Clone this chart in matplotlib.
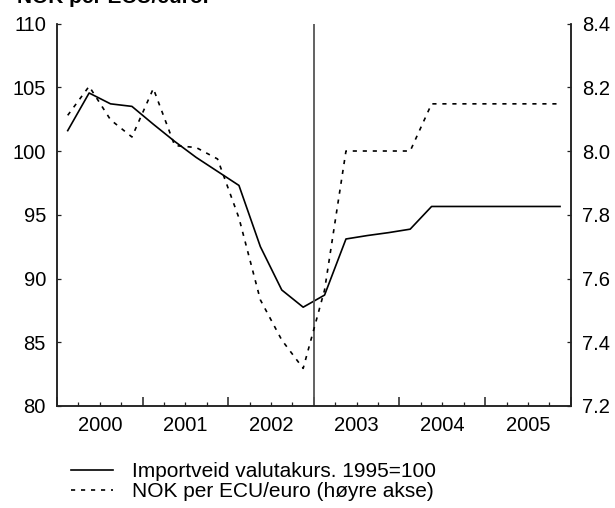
import matplotlib
matplotlib.use("Agg")
import matplotlib.pyplot as plt
import numpy as np

plt.rcParams['font.family'] = ['Liberation Sans', 'DejaVu Sans']

years = ['2000', '2001', '2002', '2003', '2004', '2005']
quarters = ['2000Q1', '2000Q2', '2000Q3', '2000Q4',
            '2001Q1', '2001Q2', '2001Q3', '2001Q4',
            '2002Q1', '2002Q2', '2002Q3', '2002Q4',
            '2003Q1', '2003Q2', '2003Q3', '2003Q4',
            '2004Q1', '2004Q2', '2004Q3', '2004Q4',
            '2005Q1', '2005Q2', '2005Q3', '2005Q4']
importveid = [101.6, 104.55, 103.7, 103.5,
              102.1, 100.75, 99.5, 98.4,
              97.3, 92.5, 89.1, 87.75,
              88.7, 93.1, 93.37, 93.6,
              93.87, 95.65, 95.65, 95.65,
              95.65, 95.65, 95.65, 95.65]
nok_euro = [8.112, 8.203, 8.098, 8.044,
            8.196, 8.017, 8.011, 7.975,
            7.79, 7.533, 7.407, 7.318,
            7.564, 8.0, 8.0, 8.0,
            8.0, 8.148, 8.148, 8.148,
            8.148, 8.148, 8.148, 8.148]
left_ticks = [80, 85, 90, 95, 100, 105, 110]
right_ticks = [7.2, 7.4, 7.6, 7.8, 8.0, 8.2, 8.4]
label_solid = 'Importveid valutakurs. 1995=100'
label_dash = 'NOK per ECU/euro (høyre akse)'
title = 'NOK per ECU/euro.'
split_quarter = '2003Q1'

fig = plt.figure(figsize=(6.15, 5.08), dpi=100)
ax = fig.add_axes([0.0927, 0.2008, 0.928 - 0.0927, 0.9537 - 0.2008])
ax2 = ax.twinx()

x = np.arange(len(quarters)) + 0.5
l1, = ax.plot(x, importveid, color='black', lw=1.2, label=label_solid)
l2, = ax2.plot(x, nok_euro, color='black', lw=1.2, linestyle=(0, (2.5, 3.5)), label=label_dash)

ax.axvline(quarters.index(split_quarter), color='#555555', lw=1.3)

ax.set_xlim(0, len(quarters))
ax.set_ylim(80, 110)
ax2.set_ylim(7.2, 8.4)
ax.set_yticks(left_ticks)
ax.set_yticklabels([str(t) for t in left_ticks])
ax2.set_yticks(right_ticks)
ax2.set_yticklabels([f'{t:.1f}' for t in right_ticks])

ax.set_xticks(np.arange(0, len(quarters) + 1, 4))
ax.set_xticklabels([])
ax.set_xticks(np.arange(0, len(quarters) + 1, 1), minor=True)
ax.tick_params(axis='x', which='major', direction='in', length=6.5, width=1.1, color='#222222')
ax.tick_params(axis='x', which='minor', direction='in', length=3, width=0.9, color='#222222')
ax.tick_params(axis='y', direction='in', length=3, width=0.9, labelsize=14.5, pad=8, color='#222222')
ax2.tick_params(axis='y', direction='in', length=3, width=0.9, labelsize=14.5, pad=8, color='#222222')

for i, yr in enumerate(years):
    ax.text(i * 4 + 2, -0.025, yr, transform=ax.get_xaxis_transform(),
            ha='center', va='top', fontsize=14.5)

for a in (ax, ax2):
    a.spines['top'].set_visible(False)
    for s in ('left', 'right', 'bottom'):
        a.spines[s].set_color('#222222')
        a.spines[s].set_linewidth(1.1)

fig.text(17 / 615, 1 - 3 / 508, title, fontsize=15, fontweight='bold', va='baseline', ha='left')

fig.legend(handles=[l1, l2], loc='upper left', bbox_to_anchor=(71 / 615, 1 - 462 / 508),
           frameon=False, fontsize=15, handlelength=2.0, handletextpad=0.95,
           labelspacing=0.05, borderaxespad=0, borderpad=0)

fig.savefig('out.png', dpi=100)
